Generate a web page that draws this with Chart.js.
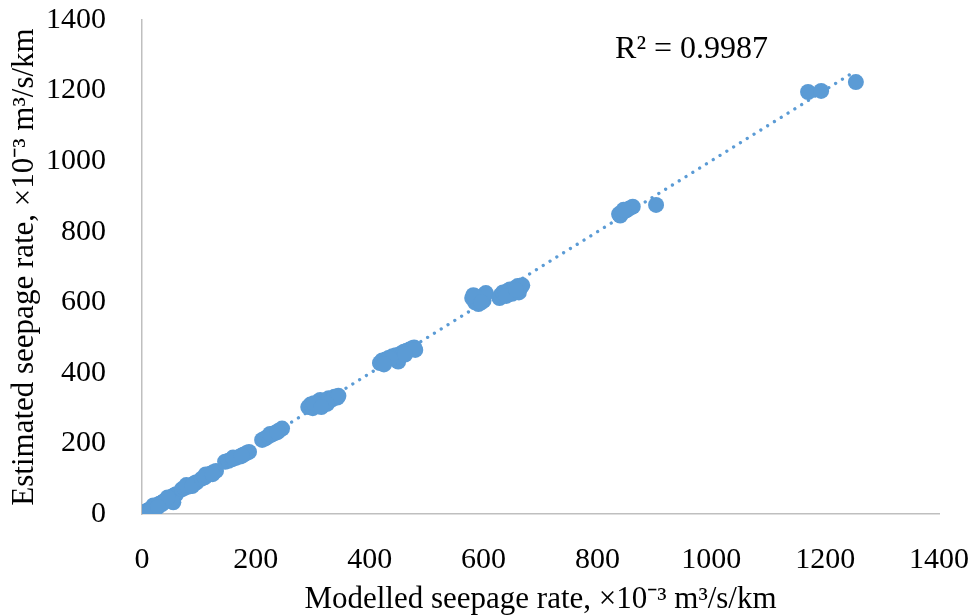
<!DOCTYPE html>
<html>
<head>
<meta charset="utf-8">
<title>Seepage rate</title>
<script src="https://cdn.jsdelivr.net/npm/chart.js@4.4.1/dist/chart.umd.min.js"></script>
<style>
  html, body { margin: 0; padding: 0; background: #fff; }
  canvas { display: block; }
</style>
</head>
<body>
<canvas id="myChart" width="974" height="615"></canvas>
<script>
// modelled (x) vs estimated (y) seepage rate, x10^-3 m3/s/km
var modelled = [
    0, 1, 2, 3, 4, 5, 6, 8, 9, 10, 12, 14, 15, 17, 18, 20, 22, 24, 25, 27, 29, 30,
    32, 34, 36, 38, 40, 42, 44, 46, 48, 50, 52, 54, 56, 58, 60, 55, 52, 20, 35, 45, 12, 28,
    70, 75, 80, 85, 90, 93, 96, 78, 88,
    105, 110, 115, 120, 125, 130, 112, 124,
    146, 152, 158, 165, 172, 178, 184, 188, 160, 175,
    211, 216, 222, 228, 234, 240, 246, 225, 238,
    292, 296, 300, 305, 310, 313, 318, 322, 328, 334, 338, 343, 345, 302, 325, 315,
    418, 422, 428, 433, 440, 446, 450, 452, 455, 460, 465, 470, 475, 478, 480, 436, 462, 425,
    580, 582, 585, 588, 591, 594, 598, 600, 602, 604, 584, 596,
    628, 630, 634, 638, 642, 646, 650, 650, 655, 660, 662, 665, 668, 640, 657,
    838, 840, 844, 850, 856, 862, 846,
    903,
    1170, 1193,
    1254
];
var estimated = [
    2, 1, 3, 2, 4, 5, 5, 7, 9, 10, 11, 12, 14, 16, 17, 18, 20, 22, 23, 25, 27, 28,
    29, 31, 33, 35, 37, 39, 41, 43, 44, 46, 48, 50, 52, 54, 56, 33, 36, 24, 28, 47, 4, 20,
    70, 74, 77, 80, 84, 88, 90, 82, 79,
    100, 104, 110, 114, 118, 122, 112, 113,
    148, 151, 155, 159, 163, 168, 173, 176, 160, 165,
    210, 214, 220, 225, 230, 236, 242, 227, 232,
    303, 310, 300, 308, 318, 323, 312, 320, 328, 325, 332, 330, 335, 314, 312, 303,
    428, 435, 438, 442, 447, 450, 432, 445, 455, 460, 463, 466, 470, 472, 465, 440, 452, 424,
    612, 620, 600, 606, 595, 610, 616, 605, 622, 626, 618, 600,
    612, 620, 628, 624, 632, 636, 632, 624, 640, 646, 628, 642, 648, 618, 635,
    850, 846, 855, 860, 866, 871, 862,
    876,
    1196, 1199,
    1224
];
var tickValues = [0, 200, 400, 600, 800, 1000, 1200, 1400];
var r2Label = 'R\u00B2 = 0.9987';
var xTitle = 'Modelled seepage rate, \u00D710\u207B\u00B3 m\u00B3/s/km';
var yTitle = 'Estimated seepage rate, \u00D710\u207B\u00B3 m\u00B3/s/km';

var points = modelled.map(function (x, i) { return { x: x, y: estimated[i] }; });

// linear trendline (least squares), drawn from 0 to the largest x like Excel
var n = modelled.length, sx = 0, sy = 0, sxx = 0, sxy = 0;
for (var i = 0; i < n; i++) {
    sx += modelled[i]; sy += estimated[i];
    sxx += modelled[i] * modelled[i]; sxy += modelled[i] * estimated[i];
}
var slope = (n * sxy - sx * sy) / (n * sxx - sx * sx);
var intercept = (sy - slope * sx) / n;
var xMax = Math.max.apply(null, modelled);
var trend = [
    { x: 0, y: intercept },
    { x: xMax, y: intercept + slope * xMax }
];

var fontFamily = '"Liberation Serif", "Times New Roman", serif';
var blue = '#5B9BD5';

var r2Plugin = {
    id: 'r2',
    afterDraw: function (chart) {
        var c = chart.ctx;
        var xs = chart.scales.x, ys = chart.scales.y;
        c.save();
        c.font = '32px ' + fontFamily;
        c.fillStyle = '#000';
        c.textAlign = 'left';
        c.textBaseline = 'middle';
        c.fillText(r2Label, xs.getPixelForValue(831), ys.getPixelForValue(1315));
        c.restore();
    }
};

function plainTick(v) { return String(v); }

var ctx = document.getElementById('myChart').getContext('2d');
var chart = new Chart(ctx, {
    type: 'scatter',
    data: {
        datasets: [
            {
                label: 'trend',
                type: 'line',
                data: trend,
                borderColor: blue,
                borderWidth: 3.3,
                borderDash: [0.01, 8],
                borderCapStyle: 'round',
                pointRadius: 0,
                fill: false,
                order: 2
            },
            {
                label: 'data',
                data: points,
                backgroundColor: blue,
                borderColor: blue,
                borderWidth: 0,
                pointRadius: 8,
                order: 1
            }
        ]
    },
    options: {
        responsive: false,
        animation: false,
        layout: {
            padding: { left: 0, right: 35, top: 20, bottom: 0 }
        },
        plugins: {
            legend: { display: false },
            tooltip: { enabled: false }
        },
        scales: {
            x: {
                type: 'linear',
                min: 0,
                max: 1400,
                afterBuildTicks: function (s) {
                    s.ticks = tickValues.map(function (v) { return { value: v }; });
                },
                afterFit: function (s) {
                    s.height = 101;
                    s.paddingLeft = 0;
                    s.paddingRight = 0;
                },
                grid: { display: false },
                border: { display: true, color: '#BFBFBF', width: 1.5 },
                ticks: {
                    color: '#000',
                    padding: 20,
                    maxRotation: 0,
                    callback: plainTick,
                    font: { family: fontFamily, size: 30 }
                },
                title: {
                    display: true,
                    text: xTitle,
                    color: '#000',
                    padding: { top: 0, bottom: -3 },
                    font: { family: fontFamily, size: 31 }
                }
            },
            y: {
                type: 'linear',
                min: 0,
                max: 1400,
                afterBuildTicks: function (s) {
                    s.ticks = tickValues.map(function (v) { return { value: v }; });
                },
                afterFit: function (s) {
                    s.width = 142;
                    s.paddingTop = 0;
                    s.paddingBottom = 0;
                },
                grid: { display: false },
                border: { display: true, color: '#BFBFBF', width: 1.5 },
                ticks: {
                    color: '#000',
                    padding: 28,
                    callback: plainTick,
                    font: { family: fontFamily, size: 30 }
                },
                title: {
                    display: true,
                    text: yTitle,
                    color: '#000',
                    padding: { top: 6, bottom: 0 },
                    font: { family: fontFamily, size: 31 }
                }
            }
        }
    },
    plugins: [r2Plugin]
});
</script>
</body>
</html>
